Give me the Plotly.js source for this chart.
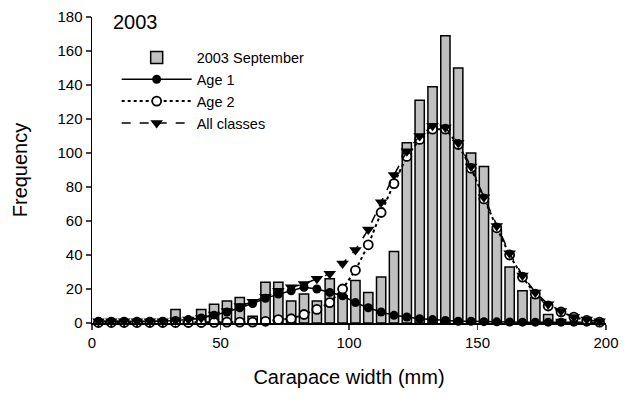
<!DOCTYPE html>
<html>
<head>
<meta charset="utf-8">
<script src="https://cdn.plot.ly/plotly-3.0.1.min.js"></script>
<style>html,body{margin:0;padding:0;background:#fff;}#chart{width:627px;height:403px;}</style>
</head>
<body>
<div id="chart"></div>
<script>
// Bin centres (mm) for the size-frequency histogram
const binCenters = [2.5,7.5,12.5,17.5,22.5,27.5,32.5,37.5,42.5,47.5,52.5,57.5,62.5,67.5,72.5,77.5,82.5,87.5,92.5,97.5,
  102.5,107.5,112.5,117.5,122.5,127.5,132.5,137.5,142.5,147.5,152.5,157.5,162.5,167.5,172.5,177.5,182.5,187.5,192.5,197.5];
// 2003 September observed frequencies
const september = [0,0,0,0,0,0,8,0,8,11,13,15,4,24,24,13,17,13,26,16,
  25,18,27,42,106,131,139,169,150,100,92,55,33,19,15,5,2,0,0,0];
// Fitted component: Age 1
const age1 = [1,1,1,1,1,1,1.5,2,3,4.5,6.5,9,11.5,14.5,17,19,21,20,18,16,
  12,9,6.5,4.5,3.5,2.5,2,1.5,1,1,0.8,0.7,0.6,0.5,0.5,0.5,0.5,0.5,0.5,0.5];
// Fitted component: Age 2
const age2 = [0.3,0.3,0.3,0.3,0.3,0.3,0.3,0.3,0.3,0.4,0.5,0.5,0.5,1,2,2.5,5,8,12,20,
  31,46,65,82,98,108,114,114,105,91,73,56,40,27,17,10,6.5,3.5,1.5,0.5];
// Fitted total: All classes
const allClasses = [1,1,1,1,1,1,1.5,2,3,5,7,10,12.5,15.5,19,21,23,26,29,35,
  43,55,71,87,101,110,116,115,106,92,74,57,41,28,18,11,7,3.5,2,1];

const font = "Liberation Sans, Arial, sans-serif";

const traces = [
  {type:'bar', name:'2003 September', x:binCenters, y:september, width:3.6,
   marker:{color:'#c0c0c0', line:{color:'#000', width:1.5}}},
  {type:'scatter', mode:'lines+markers', name:'Age 1', x:binCenters, y:age1, cliponaxis:false,
   line:{color:'#000', width:1.5}, marker:{symbol:'circle', size:9, color:'#000'}},
  {type:'scatter', mode:'lines+markers', name:'Age 2', x:binCenters, y:age2, cliponaxis:false,
   line:{color:'#000', width:2, dash:'dot'}, marker:{symbol:'circle', size:9, color:'#fff', line:{color:'#000', width:1.8}}},
  {type:'scatter', mode:'lines+markers', name:'All classes', x:binCenters, y:allClasses, cliponaxis:false,
   line:{color:'#000', width:1.5, dash:'dash'}, marker:{symbol:'triangle-down', size:11, color:'#000'}}
];

const layout = {
  width:627, height:403,
  margin:{l:92, r:21, t:17, b:80},
  paper_bgcolor:'#fff', plot_bgcolor:'#fff',
  font:{family:font, color:'#000', size:15},
  showlegend:true,
  legend:{x:0.048, y:0.92, xanchor:'left', yanchor:'top', bgcolor:'rgba(0,0,0,0)',
          font:{family:font, size:14.5, color:'#000'}, itemwidth:70, tracegroupgap:0},
  bargap:0,
  xaxis:{range:[0,200], tickvals:[0,50,100,150,200], ticks:'outside', ticklen:5, tickwidth:1.5,
         showline:true, linecolor:'#000', linewidth:1.5, showgrid:false, zeroline:false,
         tickfont:{size:15}, title:{text:'Carapace width (mm)', font:{size:20}, standoff:20}},
  yaxis:{range:[0,180], tickvals:[0,20,40,60,80,100,120,140,160,180], ticks:'outside', ticklen:5, tickwidth:1.5,
         showline:true, linecolor:'#000', linewidth:1.5, showgrid:false, zeroline:false,
         tickfont:{size:15}, title:{text:'Frequency', font:{size:20}, standoff:24}},
  annotations:[{text:'2003', xref:'paper', yref:'paper', x:0.037, y:1.026, xanchor:'left', yanchor:'top',
                showarrow:false, font:{size:20, family:font}}]
};

Plotly.newPlot('chart', traces, layout, {displayModeBar:false, staticPlot:true});
</script>
</body>
</html>
